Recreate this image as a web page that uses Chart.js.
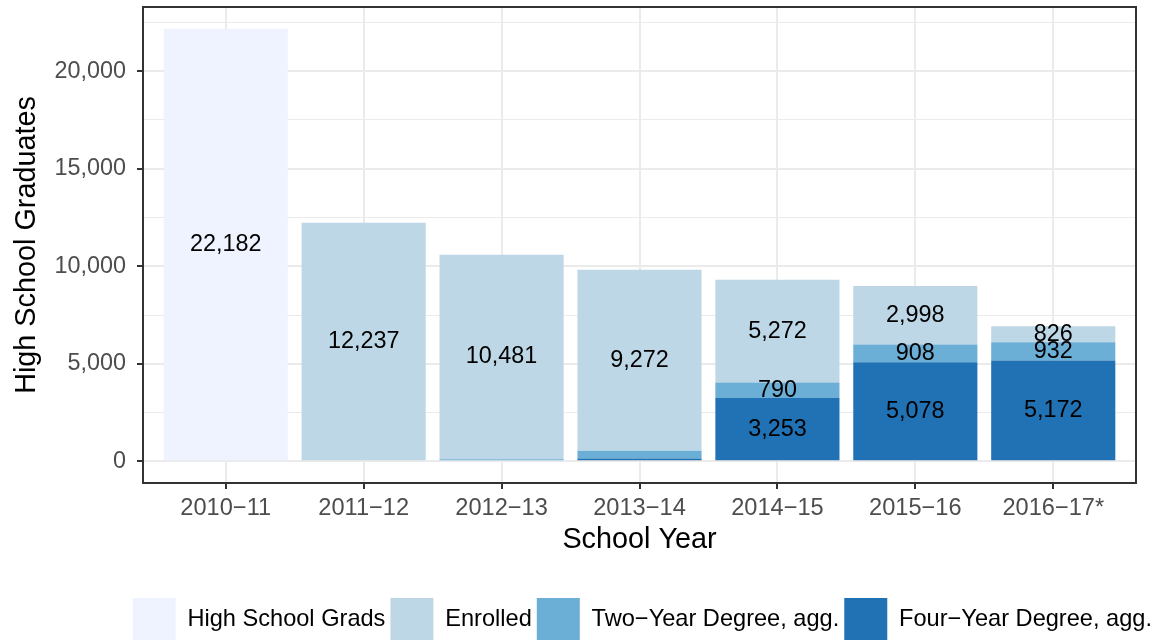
<!DOCTYPE html>
<html>
<head>
<meta charset="utf-8">
<script src="https://cdn.jsdelivr.net/npm/chart.js@4"></script>
<style>
  html, body { margin: 0; padding: 0; background: #fff; }
  #wrap { width: 1157px; height: 642px; }
</style>
</head>
<body>
<div id="wrap"><canvas id="grafico" width="1157" height="642"></canvas></div>
<script>
// dados
const anos = ['2010−11', '2011−12', '2012−13', '2013−14', '2014−15', '2015−16', '2016−17*'];
const formados = [22182, 0, 0, 0, 0, 0, 0];
const matriculados = [0, 12237, 10481, 9272, 5272, 2998, 826];
const doisAnos = [0, 0, 110, 400, 790, 908, 932];
const quatroAnos = [0, 0, 0, 150, 3253, 5078, 5172];
const ticksY = [0, 2500, 5000, 7500, 10000, 12500, 15000, 17500, 20000, 22500];

const fonte = 'Liberation Sans, Arial, sans-serif';
const pontos = arr => arr.map((v, i) => ({ x: i, y: v }));

// tira o espaço extra que o Chart.js reserva para os rótulos das pontas
const semPadding = s => {
  s.paddingTop = 0;
  s.paddingBottom = 0;
  s.paddingLeft = 0;
  s.paddingRight = 0;
};

// rótulos no meio de cada segmento
const rotulos = {
  id: 'rotulos',
  afterDatasetsDraw(chart) {
    const ctx = chart.ctx;
    ctx.save();
    ctx.font = '23.4px ' + fonte;
    ctx.fillStyle = '#000';
    ctx.textAlign = 'center';
    ctx.textBaseline = 'middle';
    chart.data.datasets.forEach((ds, di) => {
      chart.getDatasetMeta(di).data.forEach((bar, i) => {
        const v = ds.data[i].y;
        if (v < 500) return;
        ctx.fillText(v.toLocaleString('en-US'), bar.x, (bar.y + bar.base) / 2);
      });
    });
    // borda do painel
    const a = chart.chartArea;
    ctx.strokeStyle = '#333333';
    ctx.lineWidth = 2;
    ctx.strokeRect(a.left, a.top, a.right - a.left, a.bottom - a.top);
    ctx.restore();
  }
};

const ctx = document.getElementById('grafico').getContext('2d');
const meuGrafico = new Chart(ctx, {
  type: 'bar',
  data: {
    datasets: [
      { label: 'Four−Year Degree, agg.', data: pontos(quatroAnos), backgroundColor: '#2171b5' },
      { label: 'Two−Year Degree, agg.', data: pontos(doisAnos), backgroundColor: '#6baed6' },
      { label: 'Enrolled', data: pontos(matriculados), backgroundColor: '#bdd7e7' },
      { label: 'High School Grads', data: pontos(formados), backgroundColor: '#eff3ff' }
    ]
  },
  options: {
    responsive: false,
    animation: false,
    events: [],
    datasets: { bar: { barPercentage: 0.9, categoryPercentage: 1, borderWidth: 0 } },
    layout: { padding: { top: 7, left: 0, right: 0, bottom: -8 } },
    plugins: {
      tooltip: { enabled: false },
      legend: {
        position: 'bottom',
        align: 'end',
        reverse: true,
        labels: {
          boxWidth: 43,
          boxHeight: 42,
          padding: 5,
          color: '#000',
          font: { family: fonte, size: 23.6 }
        }
      }
    },
    scales: {
      x: {
        type: 'linear',
        stacked: true,
        min: -0.6,
        max: 6.6,
        offset: false,
        afterBuildTicks: s => { s.ticks = anos.map((a, i) => ({ value: i })); },
        afterFit: s => { s.height = 110; semPadding(s); },
        grid: { offset: false, color: '#ebebeb', lineWidth: 2, tickLength: 6, tickColor: '#333333', tickWidth: 2 },
        border: { display: false },
        ticks: {
          autoSkip: false,
          maxRotation: 0,
          padding: 5,
          color: '#4d4d4d',
          font: { family: fonte, size: 23.6 },
          callback: v => anos[v]
        },
        title: {
          display: true,
          text: 'School Year',
          color: '#000',
          font: { family: fonte, size: 28.8 },
          padding: { top: 0, bottom: 36 }
        }
      },
      y: {
        stacked: true,
        min: -1109,
        max: 23291,
        afterBuildTicks: s => { s.ticks = ticksY.map(v => ({ value: v })); },
        afterFit: s => { s.width = 143; semPadding(s); },
        grid: {
          color: '#ebebeb',
          lineWidth: c => (c.tick && c.tick.value % 5000 === 0 ? 2 : 1),
          tickLength: 6,
          tickWidth: 2,
          tickColor: c => (c.tick && c.tick.value % 5000 === 0 ? '#333333' : 'rgba(0,0,0,0)')
        },
        border: { display: false },
        ticks: {
          autoSkip: false,
          padding: 11,
          color: '#4d4d4d',
          font: { family: fonte, size: 23.4 },
          callback: v => (v % 5000 === 0 ? v.toLocaleString('en-US') : '')
        },
        title: {
          display: true,
          text: 'High School Graduates',
          color: '#000',
          font: { family: fonte, size: 28.8 },
          padding: { top: 9.6, bottom: 0 }
        }
      },
      y2: {
        type: 'linear',
        position: 'right',
        display: true,
        grid: { display: false, drawTicks: false },
        border: { display: false },
        ticks: { display: false },
        afterFit: s => { s.width = 21; semPadding(s); }
      }
    }
  },
  plugins: [rotulos]
});
</script>
</body>
</html>
